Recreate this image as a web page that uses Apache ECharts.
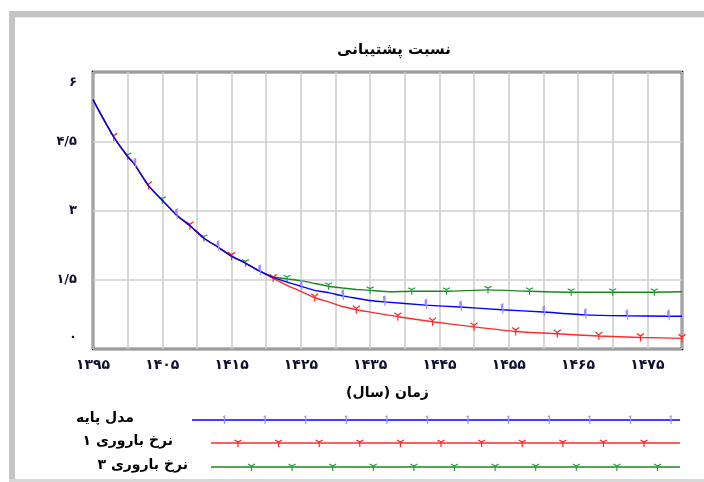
<!DOCTYPE html>
<html>
<head>
<meta charset="utf-8">
<script src="https://cdn.jsdelivr.net/npm/echarts@6/dist/echarts.min.js"></script>
<style>
html,body{margin:0;padding:0;background:#fff;}
#c{width:704px;height:482px;}
</style>
</head>
<body>
<div id="c"></div>
<script>
// ---- data ----
const chartTitle = 'نسبت پشتیبانی';
const xAxisName = 'زمان (سال)';
const seriesNames = ['مدل پایه', 'نرخ باروری ۱', 'نرخ باروری ۳'];

// shared early part of all three runs
const commonYears  = [1395, 1396, 1397, 1398, 1400, 1401, 1403, 1405, 1407, 1409, 1411, 1413, 1415, 1417, 1419];
const commonValues = [5.40, 5.12, 4.85, 4.59, 4.17, 4.00, 3.54, 3.22, 2.91, 2.67, 2.40, 2.21, 2.01, 1.86, 1.69];

// base model (blue)
const baseYears  = [1421, 1423, 1425, 1427, 1429, 1431, 1433, 1435, 1437, 1443, 1448, 1454, 1460, 1466, 1472, 1478, 1480];
const baseValues = [1.55, 1.45, 1.36, 1.27, 1.22, 1.15, 1.10, 1.05, 1.02, 0.95, 0.91, 0.85, 0.80, 0.74, 0.72, 0.71, 0.71];
const baseMarks  = [1401, 1407, 1413, 1419, 1425, 1431, 1437, 1443, 1448, 1454, 1460, 1466, 1472, 1478];

// fertility rate 1 (red)
const fert1Years  = [1421, 1423, 1425, 1427, 1429, 1431, 1433, 1435, 1439, 1444, 1450, 1456, 1462, 1468, 1474, 1480];
const fert1Values = [1.53, 1.38, 1.25, 1.11, 1.02, 0.92, 0.85, 0.80, 0.70, 0.59, 0.48, 0.38, 0.33, 0.28, 0.25, 0.23];
const fert1Marks  = [1398, 1403, 1409, 1415, 1421, 1427, 1433, 1439, 1444, 1450, 1456, 1462, 1468, 1474, 1480];

// fertility rate 3 (green)
const fert3Years  = [1421, 1423, 1425, 1427, 1429, 1431, 1433, 1435, 1438, 1441, 1446, 1452, 1458, 1464, 1470, 1476, 1480];
const fert3Values = [1.56, 1.52, 1.48, 1.42, 1.36, 1.32, 1.29, 1.27, 1.24, 1.25, 1.25, 1.28, 1.25, 1.23, 1.23, 1.23, 1.24];
const fert3Marks  = [1400, 1405, 1411, 1417, 1423, 1429, 1435, 1441, 1446, 1452, 1458, 1464, 1470, 1476];

const xMin = 1395, xMax = 1480, xStep = 5, xLabelStep = 10;
const yMin = 0, yMax = 6, yStep = 1.5;

// ---- helpers ----
const FONT = '"DejaVu Sans", "Noto Sans", sans-serif';
const faDigits = '۰۱۲۳۴۵۶۷۸۹';
const fa = v => String(v).replace(/\d/g, d => faDigits[d]).replace('.', '/');

function build(years, values) {
  const out = [];
  commonYears.forEach((y, i) => out.push([y, commonValues[i]]));
  years.forEach((y, i) => out.push([y, values[i]]));
  return out;
}

const SYM_BLUE  = 'path://M-2,1L0,0L0,8';
const SYM_RED   = 'path://M0,0L4,3L8,0M4,3L4,9';
const SYM_GREEN = 'path://M0,0L4,2L8,0M4,2L4,8';

function mkSeries(name, data, marks, color, markColor, sym, size, z) {
  return {
    name: name,
    type: 'line',
    data: data,
    z: z,
    smooth: 0.15,
    showSymbol: true,
    showAllSymbol: true,
    symbol: (val) => marks.indexOf(val[0]) >= 0 ? sym : 'none',
    symbolSize: size,
    itemStyle: { color: 'transparent', borderColor: markColor, borderWidth: 1.2 },
    lineStyle: { color: color, width: 1.4 },
    emphasis: { disabled: true },
    animation: false
  };
}

const chart = echarts.init(document.getElementById('c'), null, { renderer: 'canvas' });

// legend drawn as graphics (text on the left, long line with markers on the right)
const legendRows = [
  { name: seriesNames[0], tx: 134, y: 420, x1: 192, color: '#0000ff', mark: '#a090ff', type: 'blue', m0: 224.5 },
  { name: seriesNames[1], tx: 173, y: 443, x1: 211, color: '#ff2a2a', mark: '#ff2020', type: 'red', m0: 238 },
  { name: seriesNames[2], tx: 188, y: 467, x1: 211, color: '#1a8a1a', mark: '#20a040', type: 'green', m0: 251.5 }
];
const graphics = [
  // outer frame (gray)
  { type: 'rect', shape: { x: 9, y: 11, width: 6, height: 471 }, style: { fill: '#c4c4c4' }, silent: true },
  { type: 'rect', shape: { x: 9, y: 11, width: 695, height: 6 }, style: { fill: '#c4c4c4' }, silent: true },
  { type: 'rect', shape: { x: 15, y: 17, width: 689, height: 1 }, style: { fill: '#ececec' }, silent: true },
  { type: 'rect', shape: { x: 9, y: 479, width: 695, height: 3 }, style: { fill: '#d8d8d8' }, silent: true }
];
legendRows.forEach(r => {
  graphics.push({
    type: 'text', x: r.tx, y: r.y - 2, silent: true,
    style: { text: r.name, align: 'right', verticalAlign: 'middle', fill: '#000',
             font: 'bold 14px ' + FONT }
  });
  graphics.push({
    type: 'line', silent: true,
    shape: { x1: r.x1, y1: r.y, x2: 680, y2: r.y },
    style: { stroke: r.color, lineWidth: 1.4 }
  });
  for (let mx = r.m0; mx <= 682; mx += 40.6) {
    let pts;
    if (r.type === 'blue') pts = [[mx - 1.5, r.y - 3], [mx, r.y - 4], [mx, r.y + 4]];
    else pts = [[mx - 3.5, r.y - 3], [mx, r.y - 1], [mx + 3.5, r.y - 3], [mx, r.y - 1], [mx, r.y + 4]];
    graphics.push({
      type: 'polyline', silent: true,
      shape: { points: pts },
      style: { stroke: r.mark, lineWidth: 1.2, fill: null }
    });
  }
});

const option = {
  backgroundColor: '#ffffff',
  animation: false,
  title: {
    text: chartTitle,
    left: 389, top: 38, textAlign: 'center',
    textStyle: { fontFamily: FONT, fontSize: 15, fontWeight: 'bold', color: '#000' }
  },
  grid: {
    left: 93, top: 72, right: 22, bottom: 133,
    show: true, borderColor: '#000', borderWidth: 2.5, backgroundColor: 'transparent'
  },
  xAxis: {
    type: 'value',
    min: xMin, max: xMax, interval: xStep,
    name: xAxisName, nameLocation: 'middle', nameGap: 37,
    nameTextStyle: { fontFamily: FONT, fontSize: 14, fontWeight: 'bold', color: '#000' },
    axisLine: { show: false },
    axisTick: { show: false },
    splitLine: { show: true, lineStyle: { color: '#cfcfcf', width: 1.6 } },
    axisLabel: {
      margin: 9,
      fontFamily: FONT, fontSize: 14, fontWeight: 'bold', color: '#101030',
      showMaxLabel: false,
      formatter: v => ((v - xMin) % xLabelStep === 0 && v < xMax) ? fa(v) : ''
    }
  },
  yAxis: {
    type: 'value',
    min: yMin, max: yMax, interval: yStep,
    axisLine: { show: false },
    axisTick: { show: false },
    splitLine: { show: true, lineStyle: { color: '#cfcfcf', width: 1.6 } },
    axisLabel: {
      margin: 16,
      lineHeight: 22,
      verticalAlignMinLabel: 'bottom',
      verticalAlignMaxLabel: 'top',
      fontFamily: FONT, fontSize: 13, fontWeight: 'bold', color: '#101030',
      formatter: v => fa(v)
    }
  },
  series: [
    mkSeries(seriesNames[2], build(fert3Years, fert3Values), fert3Marks, '#1a8a1a', '#20a040', SYM_GREEN, [7, 7], 2),
    mkSeries(seriesNames[1], build(fert1Years, fert1Values), fert1Marks, '#ff2a2a', '#ff2020', SYM_RED, [7, 8], 3),
    mkSeries(seriesNames[0], build(baseYears, baseValues), baseMarks, '#0000ff', '#a090ff', SYM_BLUE, [2, 8], 4)
  ],
  graphic: graphics
};
chart.setOption(option);
</script>
</body>
</html>
